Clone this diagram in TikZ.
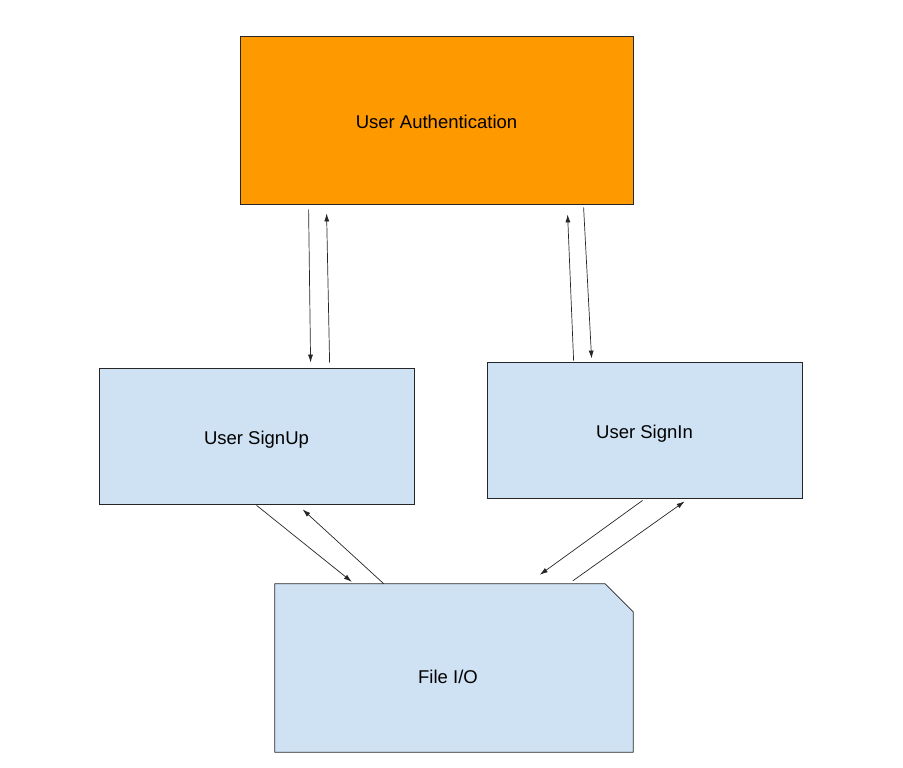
\documentclass[tikz,border=0pt]{standalone}
\usepackage{fontspec}
\setmainfont{Liberation Sans}
\usetikzlibrary{arrows.meta}
\definecolor{authorange}{HTML}{FF9900}
\definecolor{boxblue}{HTML}{CFE2F3}
\begin{document}
\begin{tikzpicture}[x=1pt,y=-1pt,
  box/.style={draw=black!85,line width=0.8pt,minimum width=#1,inner sep=0pt,text height=17.5pt,text depth=0pt},
  flow/.style={color=black!85,line width=0.7pt,-{Latex[length=8pt,width=5pt]}},
  font=\fontsize{18.5}{22}\selectfont]
\useasboundingbox (0,0) rectangle (903,768);
\node[box=393pt,fill=authorange,minimum height=168pt] (auth) at (436.5,120) {User Authentication};
\node[box=315pt,fill=boxblue,minimum height=136pt] (signup) at (256.5,436) {User SignUp};
\node[box=315pt,fill=boxblue,minimum height=136pt] (signin) at (644.5,430) {User SignIn};
\node[minimum width=358pt,minimum height=168pt,inner sep=0pt] (fileio) at (454,668) {};
\draw[color=black!85,line width=0.8pt,fill=boxblue] (fileio.north west) -- ([xshift=-28pt]fileio.north east) -- ([yshift=-28pt]fileio.north east) -- (fileio.south east) -- (fileio.south west) -- cycle;
\node (fileiotext) at (448,677) {File I/O};
\draw[flow] ([xshift=69pt,yshift=-5pt]auth.south west) -- ([xshift=212pt,yshift=5pt]signup.north west);
\draw[flow] ([xshift=231pt,yshift=5pt]signup.north west) -- ([xshift=87pt,yshift=-9pt]auth.south west);
\draw[flow] ([xshift=87pt,yshift=1pt]signin.north west) -- ([xshift=328pt,yshift=-10pt]auth.south west);
\draw[flow] ([xshift=344pt,yshift=-3pt]auth.south west) -- ([xshift=105pt,yshift=3pt]signin.north west);
\draw[flow] ([xshift=158pt,yshift=-1pt]signup.south west) -- ([xshift=77pt,yshift=2pt]fileio.north west);
\draw[flow] ([xshift=109pt]fileio.north west) -- ([xshift=204pt,yshift=-5pt]signup.south west);
\draw[flow] ([xshift=156pt,yshift=-2pt]signin.south west) -- ([xshift=265pt,yshift=9pt]fileio.north west);
\draw[flow] ([xshift=298pt,yshift=3pt]fileio.north west) -- ([xshift=198pt,yshift=-3pt]signin.south west);
\end{tikzpicture}
\end{document}
